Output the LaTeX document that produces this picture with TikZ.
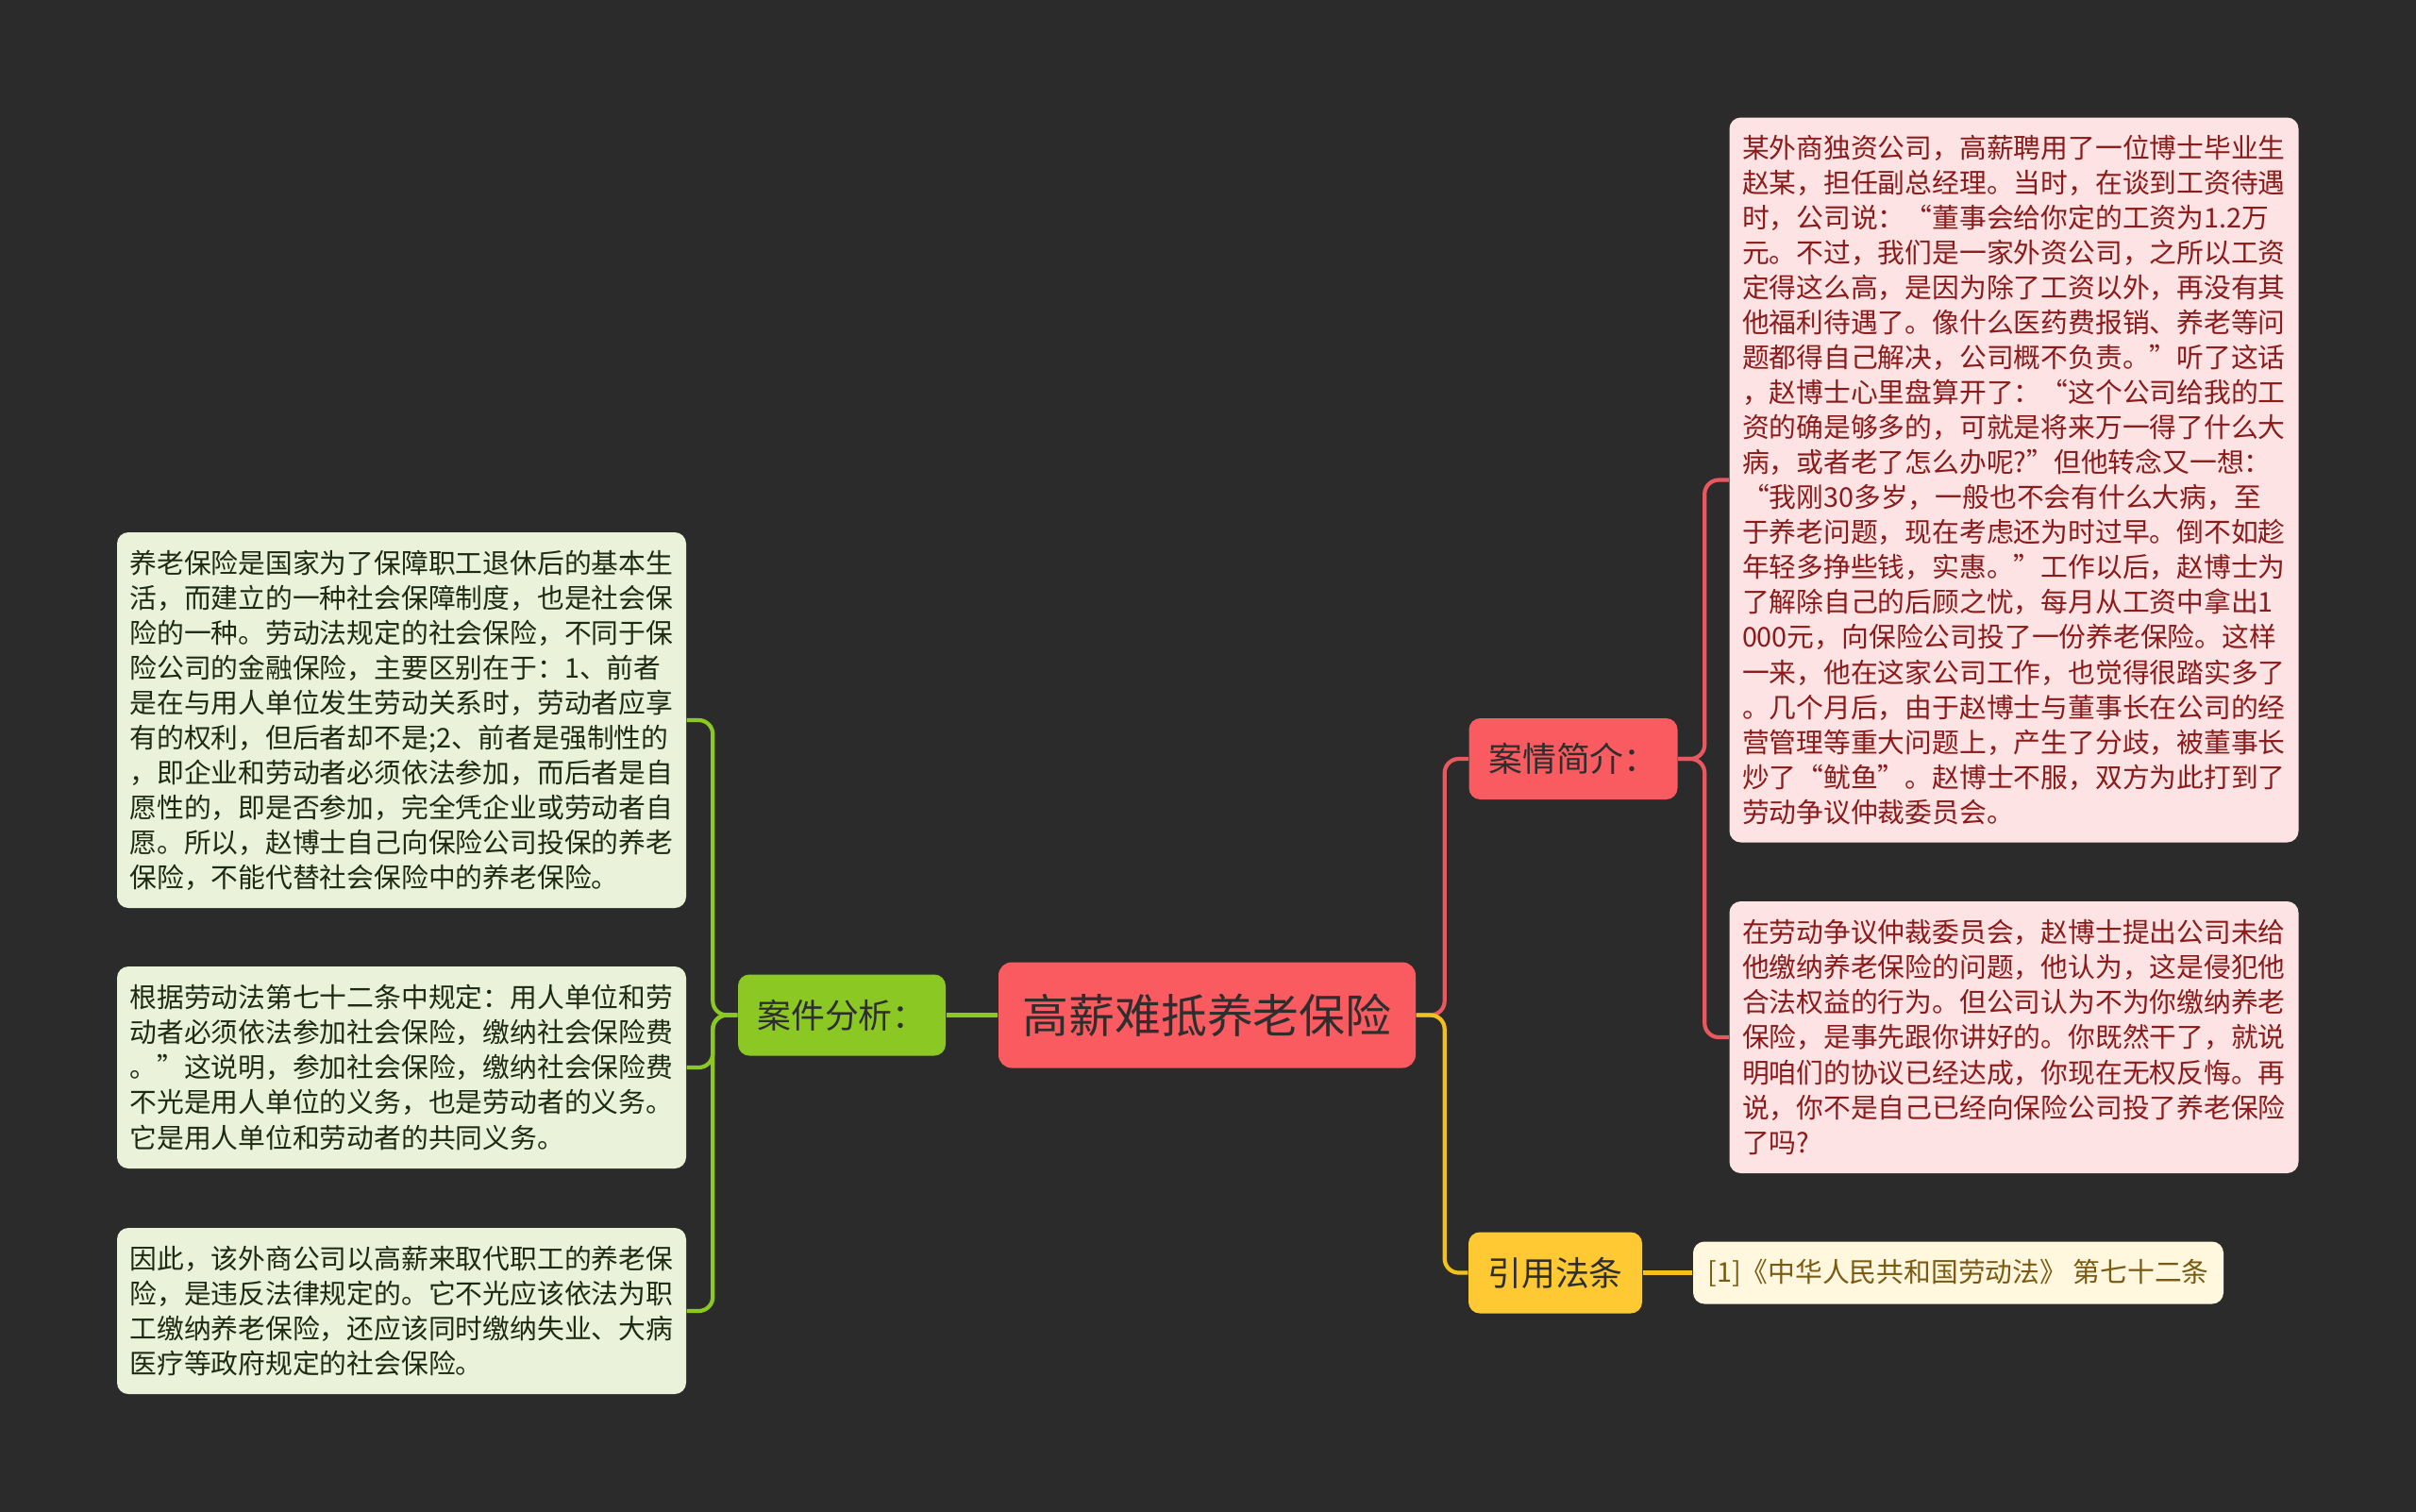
\documentclass[tikz,border=0pt]{standalone}
\usepackage{fontspec}
\setmainfont{Noto Sans CJK SC}
\definecolor{bgdark}{HTML}{2B2B2B}
\definecolor{rootred}{HTML}{F95B60}
\definecolor{casepink}{HTML}{FDE3E4}
\definecolor{casetext}{HTML}{8B1B1B}
\definecolor{redline}{HTML}{E8585E}
\definecolor{fenxigreen}{HTML}{8BC824}
\definecolor{notegreen}{HTML}{EAF3D9}
\definecolor{notetext}{HTML}{1F2A14}
\definecolor{lawyellow}{HTML}{FFC933}
\definecolor{citecream}{HTML}{FFF8DE}
\definecolor{citetext}{HTML}{7A5A12}
\definecolor{yellowline}{HTML}{F2C21B}
\definecolor{darktext}{HTML}{2E2E2E}
\begin{document}
\begin{tikzpicture}[x=1cm, y=-1cm,
  topic/.style={rounded corners=0.14cm, fill=rootred, text=darktext,
    minimum width=4.42cm, minimum height=1.12cm, inner sep=0pt,
    font=\fontsize{13.9pt}{16pt}\selectfont},
  branch/.style={rounded corners=0.12cm, text=darktext,
    minimum height=0.86cm, inner sep=0pt,
    font=\fontsize{10.2pt}{12pt}\selectfont},
  leaf/.style={rounded corners=0.12cm, align=left, text width=5.76cm,
    inner xsep=0.135cm, inner ysep=0pt,
    font=\fontsize{8.19pt}{10.53pt}\selectfont},
  link/.style={line width=1.2pt, rounded corners=0.15cm}]
  % Background
  \useasboundingbox (0,0) rectangle (25.6,16.01);
  \fill[bgdark] (-0.1,-0.1) rectangle (25.7,16.11);
  % Main topic and first level
  \node[topic] (root) at (12.79, 10.755) {高薪难抵养老保险};
  \node[branch, fill=fenxigreen, minimum width=2.20cm] (fenxi) at (8.92, 10.755) {案件分析：};
  \node[branch, fill=rootred, minimum width=2.21cm] (anqing) at (16.67, 8.04) {案情简介：};
  \node[branch, fill=lawyellow, minimum width=1.84cm] (yinyong) at (16.48, 13.485) {引用法条};
  % Case details
  \node[leaf, fill=casepink, text=casetext, minimum height=7.68cm] (case1) at (21.34, 5.085) {%
    某外商独资公司，高薪聘用了一位博士毕业生\\
    赵某，担任副总经理。当时，在谈到工资待遇\\
    时，公司说：“董事会给你定的工资为1.2万\\
    元。不过，我们是一家外资公司，之所以工资\\
    定得这么高，是因为除了工资以外，再没有其\\
    他福利待遇了。像什么医药费报销、养老等问\\
    题都得自己解决，公司概不负责。”听了这话\\
    ，赵博士心里盘算开了：“这个公司给我的工\\
    资的确是够多的，可就是将来万一得了什么大\\
    病，或者老了怎么办呢?”但他转念又一想：\\
    “我刚30多岁，一般也不会有什么大病，至\\
    于养老问题，现在考虑还为时过早。倒不如趁\\
    年轻多挣些钱，实惠。”工作以后，赵博士为\\
    了解除自己的后顾之忧，每月从工资中拿出1\\
    000元，向保险公司投了一份养老保险。这样\\
    一来，他在这家公司工作，也觉得很踏实多了\\
    。几个月后，由于赵博士与董事长在公司的经\\
    营管理等重大问题上，产生了分歧，被董事长\\
    炒了“鱿鱼”。赵博士不服，双方为此打到了\\
    劳动争议仲裁委员会。};
  \node[leaf, fill=casepink, text=casetext, minimum height=2.88cm] (case2) at (21.34, 10.99) {%
    在劳动争议仲裁委员会，赵博士提出公司未给\\
    他缴纳养老保险的问题，他认为，这是侵犯他\\
    合法权益的行为。但公司认为不为你缴纳养老\\
    保险，是事先跟你讲好的。你既然干了，就说\\
    明咱们的协议已经达成，你现在无权反悔。再\\
    说，你不是自己已经向保险公司投了养老保险\\
    了吗?};
  % Analysis notes
  \node[leaf, fill=notegreen, text=notetext, minimum height=3.98cm] (note1) at (4.255, 7.63) {%
    养老保险是国家为了保障职工退休后的基本生\\
    活，而建立的一种社会保障制度，也是社会保\\
    险的一种。劳动法规定的社会保险，不同于保\\
    险公司的金融保险，主要区别在于：1、前者\\
    是在与用人单位发生劳动关系时，劳动者应享\\
    有的权利，但后者却不是;2、前者是强制性的\\
    ，即企业和劳动者必须依法参加，而后者是自\\
    愿性的，即是否参加，完全凭企业或劳动者自\\
    愿。所以，赵博士自己向保险公司投保的养老\\
    保险，不能代替社会保险中的养老保险。};
  \node[leaf, fill=notegreen, text=notetext, minimum height=2.14cm] (note2) at (4.255, 11.31) {%
    根据劳动法第七十二条中规定：用人单位和劳\\
    动者必须依法参加社会保险，缴纳社会保险费\\
    。”这说明，参加社会保险，缴纳社会保险费\\
    不光是用人单位的义务，也是劳动者的义务。\\
    它是用人单位和劳动者的共同义务。};
  \node[leaf, fill=notegreen, text=notetext, minimum height=1.76cm] (note3) at (4.255, 13.89) {%
    因此，该外商公司以高薪来取代职工的养老保\\
    险，是违反法律规定的。它不光应该依法为职\\
    工缴纳养老保险，还应该同时缴纳失业、大病\\
    医疗等政府规定的社会保险。};
  % Law citation
  \node[branch, fill=citecream, text=citetext, minimum width=5.62cm, minimum height=0.66cm,
    font=\fontsize{8.19pt}{10pt}\selectfont] (law) at (20.75, 13.485) {[1]《中华人民共和国劳动法》 第七十二条};
  % Connectors
  \draw[link, fenxigreen] (root.west) -- (fenxi.east);
  \foreach \n in {note1, note2, note3} {
    \draw[link, fenxigreen] (fenxi.west) -- ++(-0.26,0) |- (\n.east);
  }
  \draw[link, redline] (root.east) -- ++(0.30,0) |- (anqing.west);
  \foreach \n in {case1, case2} {
    \draw[link, redline] (anqing.east) -- ++(0.28,0) |- (\n.west);
  }
  \draw[link, yellowline] (root.east) -- ++(0.30,0) |- (yinyong.west);
  \draw[link, yellowline] (yinyong.east) -- (law.west);
\end{tikzpicture}
\end{document}
